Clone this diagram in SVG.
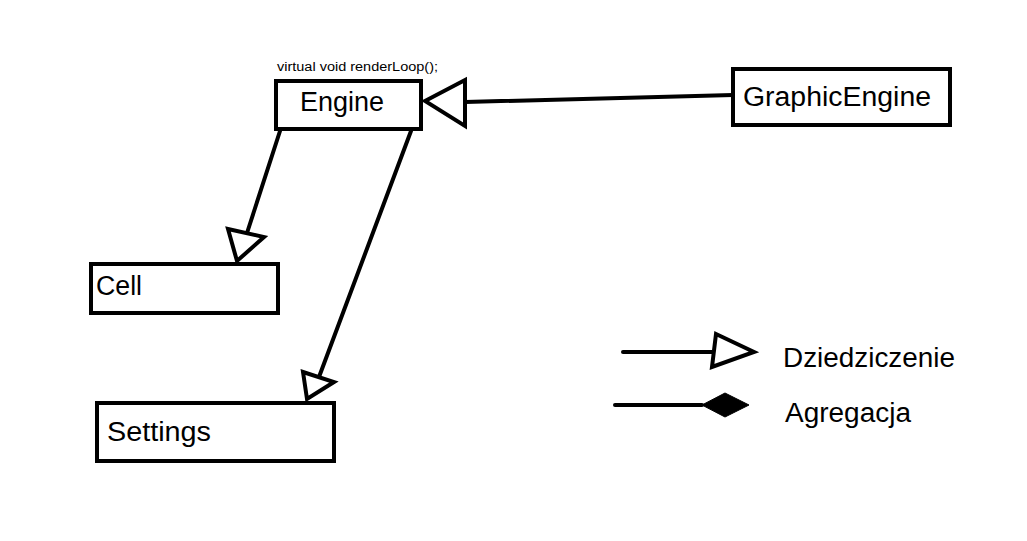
<svg xmlns="http://www.w3.org/2000/svg" width="1027" height="541" viewBox="0 0 1027 541">
<style>
.box{fill:#fff;stroke:#000;stroke-width:4}
.ln{fill:none;stroke:#000;stroke-width:4;stroke-linecap:round}
.tri{fill:#fff;stroke:#000;stroke-width:4;stroke-linejoin:miter}
.t{font-family:"Liberation Sans",Arial,sans-serif;font-size:27px;fill:#000}
.s{font-family:"Liberation Sans",Arial,sans-serif;font-size:12px;fill:#000}
</style>
<rect width="1027" height="541" fill="#fff"/>
<g id="connectors">
<line class="ln" x1="465" y1="102" x2="733" y2="95"/>
<polygon class="tri" points="425,101 465,80 465,126"/>
<line class="ln" x1="280" y1="131" x2="247" y2="233"/>
<polygon class="tri" points="228,229 264,237 237,261"/>
<line class="ln" x1="411" y1="131" x2="319" y2="377"/>
<polygon class="tri" points="303,372 334,382 307,399"/>
</g>
<g id="engine">
<text class="s" x="277" y="71" textLength="161" lengthAdjust="spacingAndGlyphs">virtual void renderLoop();</text>
<rect class="box" x="276" y="81" width="145" height="48"/>
<text class="t" x="300" y="111" textLength="84" lengthAdjust="spacingAndGlyphs">Engine</text>
</g>
<g id="graphicengine">
<rect class="box" x="733" y="69" width="217" height="56"/>
<text class="t" x="743" y="106" textLength="188" lengthAdjust="spacingAndGlyphs">GraphicEngine</text>
</g>
<g id="cell">
<rect class="box" x="91" y="264" width="187" height="49"/>
<text class="t" x="96" y="295" textLength="46" lengthAdjust="spacingAndGlyphs">Cell</text>
</g>
<g id="settings">
<rect class="box" x="97" y="403" width="237" height="58"/>
<text class="t" x="107" y="441" textLength="104" lengthAdjust="spacingAndGlyphs">Settings</text>
</g>
<g id="legend">
<line class="ln" x1="623" y1="352" x2="714" y2="352"/>
<polygon class="tri" points="716,334 754,352 712,367"/>
<text class="t" x="783" y="367" textLength="172" lengthAdjust="spacingAndGlyphs">Dziedziczenie</text>
<line class="ln" x1="615" y1="405" x2="702" y2="405"/>
<polygon points="702,405 725,393 749,405 725,417" fill="#000" stroke="#000" stroke-width="1"/>
<text class="t" x="785" y="422" textLength="126" lengthAdjust="spacingAndGlyphs">Agregacja</text>
</g>
</svg>
